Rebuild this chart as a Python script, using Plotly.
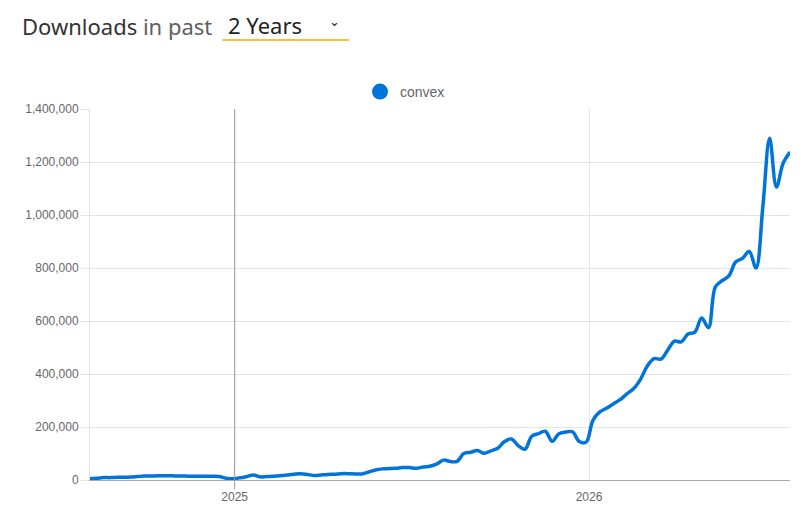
"""
    npm trends style chart: convex weekly downloads
"""

import pandas as pd
import plotly.graph_objects as go

# Weekly downloads
package = "convex"
weeks = pd.date_range("2024-08-05", periods=104, freq="7D")
downloads = [
    6000, 7000, 9000, 9000, 10000, 10000, 11000, 13000, 15000, 15000,
    16000, 16000, 16000, 15000, 15000, 14000, 14000, 14000, 14000, 13000,
    7000, 5000, 8000, 12000, 19000, 12000, 13000, 14000, 16000, 19000,
    22000, 24000, 21000, 17000, 19000, 21000, 22000, 24000, 24000, 23000,
    23000, 30000, 38000, 42000, 43000, 44000, 47000, 47000, 44000, 49000,
    52000, 60000, 75000, 70000, 70000, 100000, 105000, 111000, 101000, 110000,
    120000, 145000, 155000, 130000, 116000, 165000, 175000, 184000, 146000, 175000,
    181000, 182000, 145000, 143000, 225000, 257000, 271000, 287000, 303000, 325000,
    345000, 380000, 430000, 458000, 456000, 490000, 524000, 521000, 551000, 558000,
    611000, 575000, 728000, 752000, 770000, 823000, 836000, 862000, 800000, 1030000,
    1290000, 1106000, 1196000, 1238000,
]
y_ticks = [0, 200000, 400000, 600000, 800000, 1000000, 1200000, 1400000]

LINE_COLOR = "#0074D9"
TICK_FONT = dict(family="Liberation Sans, Arial, sans-serif", size=12, color="#666")

fig = go.Figure()
fig.add_trace(go.Scatter(x=weeks, y=downloads, mode="lines", line_shape="spline",
                         line=dict(color=LINE_COLOR, width=3.5), showlegend=False,
                         hoverinfo="x+y"))
# legend entry drawn as a round dot
fig.add_trace(go.Scatter(x=[None], y=[None], mode="markers", name=package,
                         marker=dict(color=LINE_COLOR, size=20)))

# page has an 8px body margin, so the figure is a bit smaller than the window
fig.update_layout(
    width=798, height=513,
    margin={"t": 101, "l": 82, "r": 16, "b": 41},
    plot_bgcolor="white", paper_bgcolor="white",
    font=TICK_FONT,
    legend=dict(orientation="h", x=0.45, xanchor="center", y=1.046, yanchor="middle",
                font=dict(family="Liberation Sans, Arial, sans-serif", size=14, color="#666"),
                itemwidth=30),
    annotations=[
        dict(text="Downloads <span style='color:#606060'>in past</span>",
             xref="paper", yref="paper", x=-0.1, y=1.224, xanchor="left", yanchor="middle",
             showarrow=False, font=dict(family="Noto Sans, Open Sans", size=22, color="#333")),
        dict(text="2 Years", xref="paper", yref="paper", x=0.194, y=1.226,
             xanchor="left", yanchor="middle", showarrow=False,
             font=dict(family="Noto Sans, Open Sans", size=22, color="#222")),
        dict(text="⌄", xref="paper", yref="paper", x=0.349, y=1.236,
             xanchor="center", yanchor="middle", showarrow=False,
             font=dict(family="DejaVu Sans", size=13, color="#222")),
    ],
    shapes=[
        dict(type="line", xref="paper", yref="paper", x0=0.189, x1=0.37, y0=1.186, y1=1.186,
             line=dict(color="#F5A800", width=1.5)),
        # year boundary is drawn darker than the other grid lines
        dict(type="line", xref="x", yref="paper", x0="2025-01-01", x1="2025-01-01",
             y0=-0.025, y1=1, line=dict(color="#999999", width=1), layer="above"),
    ],
)

fig.update_xaxes(range=[weeks[0], weeks[-1]], dtick="M12", tick0="2025-01-01",
                 tickformat="%Y", showgrid=True, gridcolor="#e3e3e3",
                 ticks="outside", ticklen=6, tickcolor="rgba(0,0,0,0)",
                 showline=True, linecolor="#aaa", linewidth=1, zeroline=False)
fig.update_yaxes(range=[0, 1400000], tickvals=y_ticks, tickformat=",",
                 showgrid=True, gridcolor="#e3e3e3", zeroline=False,
                 ticks="outside", ticklen=8, tickcolor="#e3e3e3",
                 showline=True, linecolor="#e3e3e3", linewidth=1)

fig.write_html("out.html")
